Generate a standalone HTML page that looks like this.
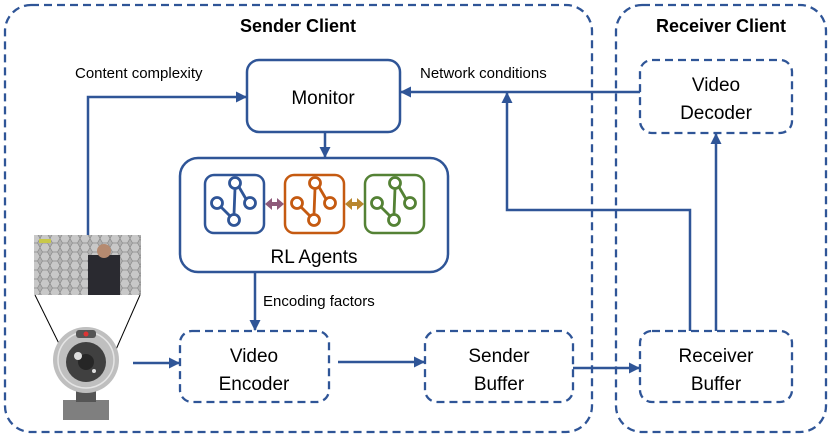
<!DOCTYPE html>
<html><head><meta charset="utf-8"><style>
body{margin:0;background:#fff}
svg{display:block}
text{font-family:"Liberation Sans",sans-serif;fill:#000}
</style></head><body>
<svg width="830" height="437" viewBox="0 0 830 437" xmlns="http://www.w3.org/2000/svg">
<defs>
<marker id="a" markerWidth="11" markerHeight="11" refX="10" refY="5.5" orient="auto" markerUnits="userSpaceOnUse"><path d="M0,0 L11,5.5 L0,11 z" fill="#2f5597"/></marker>
<g id="ic" fill="none" stroke-width="2.8">
<circle cx="1" cy="-21" r="5.5"/><circle cx="-17" cy="-1" r="5.5"/><circle cx="16" cy="-1" r="5.5"/><circle cx="0" cy="16" r="5.5"/>
<path d="M1,-15.5 L0,10.5 M5,-17 L12,-5 M-13,3 L-4,12"/>
</g>
<pattern id="hx" width="10" height="9" patternUnits="userSpaceOnUse"><rect width="10" height="9" fill="#b0b0b0"/><path d="M0,4.5 L2.5,0 L7.5,0 L10,4.5 L7.5,9 L2.5,9 z" fill="#c8c8c8" stroke="#8a8a8a" stroke-width="0.7"/></pattern>
</defs>
<g fill="none" stroke="#2f5597" stroke-width="2.3" stroke-dasharray="8,5">
<rect x="5" y="5" width="587" height="427" rx="26"/>
<rect x="616" y="5" width="210" height="427" rx="26"/>
<rect x="180" y="331" width="149" height="71" rx="12"/>
<rect x="425" y="331" width="148" height="71" rx="12"/>
<rect x="640" y="60" width="152" height="73" rx="12"/>
<rect x="640" y="331" width="152" height="71" rx="12"/>
</g>
<g fill="none" stroke="#2f5597" stroke-width="2.5">
<rect x="247" y="60" width="153" height="72" rx="12"/>
<rect x="180" y="158" width="268" height="114" rx="18"/>
<rect x="205" y="175" width="59" height="58" rx="9"/>
</g>
<rect x="285" y="175" width="59" height="58" rx="9" fill="none" stroke="#c55a11" stroke-width="2.5"/>
<rect x="365" y="175" width="59" height="58" rx="9" fill="none" stroke="#548235" stroke-width="2.5"/>
<use href="#ic" x="234" y="204" stroke="#2f5597"/>
<use href="#ic" x="314" y="204" stroke="#c55a11"/>
<use href="#ic" x="394" y="204" stroke="#548235"/>
<path d="M265,204 L272,198 L272,210 z M284,204 L277,198 L277,210 z" fill="#8e5a7a"/><line x1="270" y1="204" x2="279" y2="204" stroke="#8e5a7a" stroke-width="4"/>
<path d="M345,204 L352,198 L352,210 z M364,204 L357,198 L357,210 z" fill="#b8862e"/><line x1="350" y1="204" x2="359" y2="204" stroke="#b8862e" stroke-width="4"/>
<g stroke="#2f5597" stroke-width="2.5" fill="none" marker-end="url(#a)">
<path d="M88,235 L88,97 L246,97"/>
<path d="M640,92 L401,92"/>
<path d="M690,331 L690,210 L507,210 L507,93"/>
<path d="M325,132 L325,157"/>
<path d="M255,272 L255,330"/>
<path d="M133,363 L179,363"/>
<path d="M338,362 L424,362"/>
<path d="M573,368 L639,368"/>
<path d="M716,331 L716,134"/>
</g>
<!-- image -->
<rect x="34" y="235" width="107" height="60" fill="url(#hx)"/>
<rect x="88" y="255" width="32" height="40" fill="#2a2a30"/>
<circle cx="104" cy="251" r="7" fill="#b58a70"/>
<rect x="39" y="239" width="12" height="4" fill="#c8c84a"/>
<line x1="35" y1="295" x2="72" y2="370" stroke="#000" stroke-width="1"/>
<line x1="140" y1="295" x2="107" y2="370" stroke="#000" stroke-width="1"/>
<!-- webcam -->
<rect x="63" y="400" width="46" height="20" fill="#7f7f7f"/>
<rect x="76" y="390" width="20" height="12" fill="#555"/>
<circle cx="86" cy="360" r="33" fill="#bfbfbf"/>
<circle cx="86" cy="360" r="28" fill="none" stroke="#e5e5e5" stroke-width="1.5"/>
<circle cx="86" cy="362" r="20" fill="#404040"/>
<circle cx="86" cy="362" r="8" fill="#262626"/>
<circle cx="78" cy="356" r="4" fill="#ddd"/><circle cx="94" cy="371" r="2" fill="#ddd"/>
<rect x="76" y="330" width="20" height="8" rx="3" fill="#555"/>
<circle cx="86" cy="334" r="2.5" fill="#d33"/>
<g font-size="19" text-anchor="middle">
<text x="298" y="32" font-weight="bold" font-size="18">Sender Client</text>
<text x="721" y="32" font-weight="bold" font-size="18">Receiver Client</text>
<text x="323" y="104">Monitor</text>
<text x="314" y="263">RL Agents</text>
<text x="254" y="362">Video</text><text x="254" y="390">Encoder</text>
<text x="499" y="362">Sender</text><text x="499" y="390">Buffer</text>
<text x="716" y="91">Video</text><text x="716" y="119">Decoder</text>
<text x="716" y="362">Receiver</text><text x="716" y="390">Buffer</text>
</g>
<g font-size="15">
<text x="75" y="78">Content complexity</text>
<text x="420" y="78">Network conditions</text>
<text x="263" y="306">Encoding factors</text>
</g>
</svg>
</body></html>
